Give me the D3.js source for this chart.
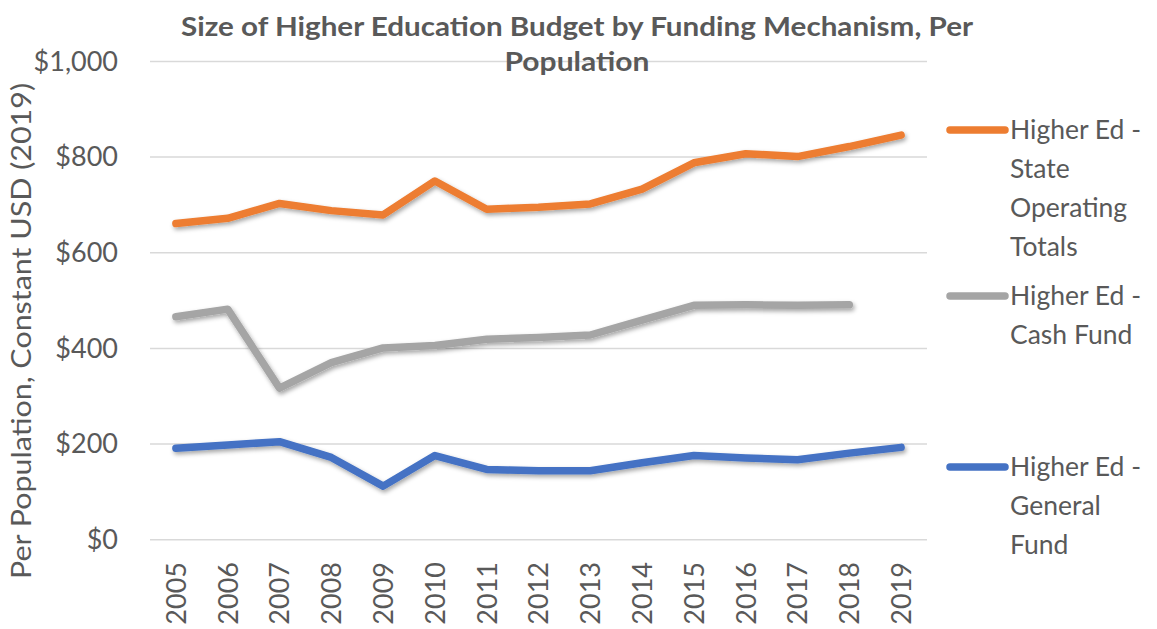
<!DOCTYPE html>
<html>
<head>
<meta charset="utf-8">
<script src="https://cdn.jsdelivr.net/npm/d3@7"></script>
<style>
  html, body { margin: 0; padding: 0; background: #fff; }
  svg { display: block; }
  text { font-family: Lato, "Open Sans", sans-serif; fill: #595959; }
</style>
</head>
<body>
<svg id="chart" width="1157" height="629"></svg>
<script>
// Higher education budget per population, constant 2019 USD
const years = ["2005","2006","2007","2008","2009","2010","2011","2012","2013","2014","2015","2016","2017","2018","2019"];
const stateOperating = [661, 672, 703, 688, 679, 750, 691, 695, 702, 733, 788, 807, 801, 822, 846];
const cashFund = [466, 482, 317, 370, 401, 406, 419, 423, 428, 459, 490, 491, 490, 491, null];
const generalFund = [191, 198, 205, 172, 112, 176, 147, 144, 144, 161, 176, 171, 167, 181, 193];
const yTicks = [0, 200, 400, 600, 800, 1000];

const seriesList = [
  { name: ["Higher Ed -", "State", "Operating", "Totals"], values: stateOperating, color: "#ED7D31", legendY: 130 },
  { name: ["Higher Ed -", "Cash Fund"], values: cashFund, color: "#A5A5A5", legendY: 296 },
  { name: ["Higher Ed -", "General", "Fund"], values: generalFund, color: "#4472C4", legendY: 467 }
];

const svg = d3.select("#chart");

const plotLeft = 150, plotRight = 927;
const x = d3.scalePoint().domain(years).range([plotLeft, plotRight]).padding(0.5);
const y = d3.scaleLinear().domain([0, 1000]).range([539.7, 61.4]);

// soft shadow under the lines
const defs = svg.append("defs");
const f = defs.append("filter").attr("id", "shadow")
  .attr("x", "-5%").attr("y", "-20%").attr("width", "110%").attr("height", "140%");
f.append("feDropShadow").attr("dx", 1.5).attr("dy", 2.5).attr("stdDeviation", 2)
  .attr("flood-color", "#000").attr("flood-opacity", 0.35);

// gridlines
svg.append("g").selectAll("line").data(yTicks).join("line")
  .attr("x1", plotLeft).attr("x2", plotRight)
  .attr("y1", d => y(d)).attr("y2", d => y(d))
  .attr("stroke", "#d9d9d9").attr("stroke-width", 1.5);

// y axis labels
const yAxis = d3.axisLeft(y).tickValues(yTicks).tickSize(0).tickPadding(0)
  .tickFormat(d => "$" + d3.format(",")(d));
const gy = svg.append("g").attr("transform", "translate(118,0)").call(yAxis);
gy.select(".domain").remove();
gy.selectAll("text").style("font-size", "27px").attr("fill", "#595959")
  .style("font-family", "Lato, 'Open Sans', sans-serif");

// x axis labels (rotated)
const xAxis = d3.axisBottom(x).tickSize(0).tickPadding(0);
const gx = svg.append("g").attr("transform", "translate(0,561)").call(xAxis);
gx.select(".domain").remove();
gx.selectAll("text")
  .style("font-size", "27px").attr("fill", "#595959")
  .style("font-family", "Lato, 'Open Sans', sans-serif")
  .attr("transform", "rotate(-90)")
  .attr("text-anchor", "end")
  .attr("x", -1).attr("y", 0).attr("dy", "0.35em");

// y axis title
svg.append("text")
  .attr("transform", "translate(31,331) rotate(-90)")
  .attr("text-anchor", "middle")
  .style("font-size", "26px")
  .attr("textLength", 496).attr("lengthAdjust", "spacingAndGlyphs")
  .text("Per Population, Constant USD (2019)");

// title
const title = svg.append("text").attr("text-anchor", "middle").style("font-size", "26px").style("font-weight", "bold");
title.append("tspan").attr("x", 577).attr("y", 36)
  .attr("textLength", 792).attr("lengthAdjust", "spacingAndGlyphs")
  .text("Size of Higher Education Budget by Funding Mechanism, Per");
title.append("tspan").attr("x", 577).attr("y", 71)
  .attr("textLength", 145).attr("lengthAdjust", "spacingAndGlyphs")
  .text("Population");

// series lines
const line = d3.line()
  .defined(d => d.v != null)
  .x(d => x(d.year))
  .y(d => y(d.v));

seriesList.forEach(s => {
  const pts = years.map((yr, i) => ({ year: yr, v: s.values[i] }));
  svg.append("path")
    .datum(pts)
    .attr("d", line)
    .attr("fill", "none")
    .attr("stroke", s.color)
    .attr("stroke-width", 7.5)
    .attr("stroke-linecap", "round")
    .attr("stroke-linejoin", "round")
    .attr("filter", "url(#shadow)");
});

// legend
seriesList.forEach(s => {
  const g = svg.append("g");
  g.append("line")
    .attr("x1", 950).attr("x2", 1005)
    .attr("y1", s.legendY).attr("y2", s.legendY)
    .attr("stroke", s.color).attr("stroke-width", 7.5)
    .attr("stroke-linecap", "round");
  s.name.forEach((t, i) => {
    g.append("text")
      .attr("x", 1010).attr("y", s.legendY + i * 38.8)
      .attr("dy", "0.35em")
      .style("font-size", "26.5px")
      .text(t);
  });
});
</script>
</body>
</html>
